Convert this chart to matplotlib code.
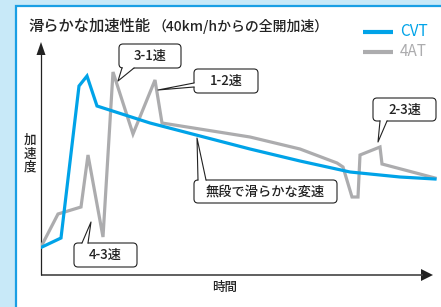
import matplotlib.pyplot as plt
from matplotlib.patches import FancyBboxPatch, Polygon, Rectangle
import numpy as np

plt.rcParams['font.family'] = ['Noto Sans CJK JP', 'DejaVu Sans']

# time (x) and acceleration (y) in arbitrary units
cvt_t = [1, 20, 38, 46, 56, 109, 159, 209, 259, 309, 359, 394]
cvt_a = [28, 37, 189, 199, 169, 152, 139, 126, 114, 103, 98, 96]

at_t = [1, 17, 40, 47, 62, 72, 92, 114, 121, 209, 259, 296, 302, 311, 317, 319, 339, 341, 394]
at_a = [30, 61, 68, 120, 38, 203, 141, 195, 152, 138, 126, 112, 108, 78, 78, 120, 128, 111, 97]

# callouts: label, box centre, box size, wedge base (2 pts), wedge tip
callouts = [
    ("3-1速", (109, 219), (62, 24), [(81, 207), (93, 207)], (77, 194)),
    ("1-2速", (185, 194), (64, 24), [(153, 192), (153, 188)], (117, 185)),
    ("2-3速", (363.5, 165.5), (63, 23), [(339, 154), (346, 154)], (337, 133)),
    ("無段で滑らかな変速", (224.5, 83.5), (143, 23), [(157, 95), (165, 95)], (156, 137)),
    ("4-3速", (64.5, 20), (63, 24), [(41, 32), (47, 32)], (50, 53)),
]

BLUE = '#00a3e8'
GRAY = '#acacae'
INK = '#222222'
W, H = 441, 307

fig = plt.figure(figsize=(W / 100, H / 100), dpi=100)
fig.patch.set_facecolor('#c8e9f8')
fig.patches.append(Rectangle((16 / W, -0.05), 1.0, 1.05 - 6 / H, transform=fig.transFigure,
                             facecolor='white', edgecolor='#1a9fe4', lw=1.6, zorder=-5))

# axes in which 1 unit = 1 pixel, origin at the arrow corner
ax = fig.add_axes([41 / W, (307 - 275) / H, 400 / W, 270 / H])
ax.set_xlim(0, 400)
ax.set_ylim(0, 270)
ax.axis('off')
ax.patch.set_alpha(0)

# arrows of the axes
ax.plot([0, 382], [0, 0], color='#444444', lw=1.2, solid_capstyle='butt', clip_on=False)
ax.plot([0, 0], [0, 222], color='#222222', lw=0.9, solid_capstyle='butt', clip_on=False)
ax.add_patch(Polygon([(380, 6), (392, 0), (380, -6)], fc='#222222', ec='none', clip_on=False))
ax.add_patch(Polygon([(-4.5, 220), (0, 233), (4.5, 220)], fc='#222222', ec='none', clip_on=False))

ax.plot(at_t, at_a, color=GRAY, lw=2.3, solid_joinstyle='miter', zorder=3)
ax.plot(cvt_t, cvt_a, color=BLUE, lw=2.3, solid_joinstyle='miter', zorder=4)

for text, (cx, cy), (w, h), base, tip in callouts:
    ax.add_patch(FancyBboxPatch((cx - w / 2, cy - h / 2), w, h,
                                boxstyle='round,pad=0,rounding_size=4',
                                fc='white', ec=INK, lw=0.8, zorder=5, clip_on=False))
    b = np.array(base, float)
    t = np.array(tip, float)
    d = b.mean(axis=0) - t
    d = d / np.hypot(*d)
    ax.add_patch(Polygon([b[0] + 2 * d, t, b[1] + 2 * d], fc='white', ec='none', zorder=6))
    ax.plot([b[0][0], t[0], b[1][0]], [b[0][1], t[1], b[1][1]], color=INK, lw=0.8, zorder=7)
    ax.text(cx, cy, text, ha='center', va='center', fontsize=9.5, color=INK, zorder=8,
            fontweight='medium')

# legend
ax.plot([322, 352], [243, 243], color=BLUE, lw=3, solid_capstyle='butt', clip_on=False)
ax.plot([322, 352], [223, 223], color=GRAY, lw=3, solid_capstyle='butt', clip_on=False)
ax.text(359, 243, "CVT", color=BLUE, fontsize=11, va='center', ha='left')
ax.text(359, 223, "4AT", color=GRAY, fontsize=11, va='center', ha='left')

# title and labels
fig.text(28 / W, 1 - 26 / H, "滑らかな加速性能", fontsize=11, color=INK, va='center', ha='left',
         fontweight='medium')
fig.text(153 / W, 1 - 26 / H, "（40km/hからの全開加速）", fontsize=10, color=INK, va='center',
         ha='left', fontweight='medium')
fig.text(30 / W, 1 - 154 / H, "加\n速\n度", fontsize=9, color=INK, va='center', ha='center',
         linespacing=1.05, fontweight='medium')
fig.text(225 / W, 1 - 287 / H, "時間", fontsize=9, color=INK, va='center', ha='center',
         fontweight='medium')

fig.savefig('out.png', dpi=100, facecolor=fig.get_facecolor())
